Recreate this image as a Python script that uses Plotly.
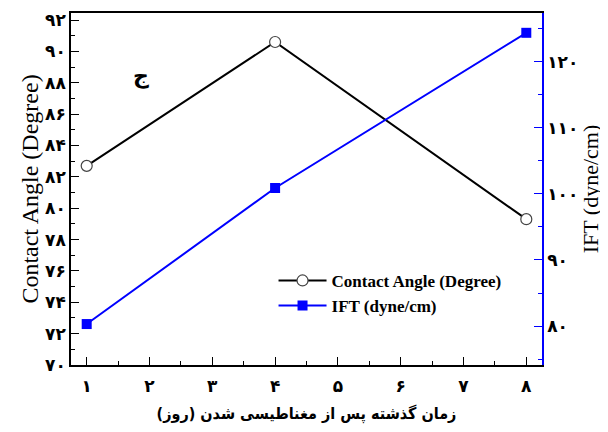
import plotly.graph_objects as go

days = [1, 4, 8]
contact_angle = [82.7, 90.6, 79.3]
ift = [80.3, 100.9, 124.4]

def fa(n):
    return str(n).translate(str.maketrans("0123456789", "۰۱۲۳۴۵۶۷۸۹"))

x_ticks = list(range(1, 9))
y1_ticks = list(range(70, 93, 2))
y2_ticks = list(range(80, 121, 10))

x_title = "زمان گذشته پس از مغناطیسی شدن (روز)"
y1_title = "Contact Angle (Degree)"
y2_title = "IFT (dyne/cm)"

tickfont = dict(family="DejaVu Sans", size=17, color="black", weight="bold")

fig = go.Figure()
fig.add_trace(go.Scatter(
    x=days, y=contact_angle, name="Contact Angle (Degree)", mode="lines+markers",
    line=dict(color="black", width=2),
    marker=dict(symbol="circle", size=11, color="white", line=dict(color="#444", width=1.2)),
    yaxis="y"))
fig.add_trace(go.Scatter(
    x=days, y=ift, name="IFT (dyne/cm)", mode="lines+markers",
    line=dict(color="#0000ff", width=2),
    marker=dict(symbol="square", size=10, color="#0000ff"),
    yaxis="y2"))

fig.update_layout(
    width=600, height=424,
    margin=dict(l=63, r=66, t=5, b=67),
    plot_bgcolor="white", paper_bgcolor="white",
    showlegend=True,
    legend=dict(x=0.43, y=0.29, xanchor="left", yanchor="top",
                bgcolor="rgba(0,0,0,0)", itemwidth=48,
                font=dict(family="Liberation Serif", size=17, color="black", weight="bold"),
                tracegroupgap=0, itemsizing="trace"),
    xaxis=dict(range=[0.75, 8.25], tickvals=x_ticks, ticktext=[fa(v) for v in x_ticks],
               ticks="inside", ticklen=8, tickcolor="black", tickwidth=1,
               showline=True, linecolor="black", linewidth=1.5, mirror=True,
               showgrid=False, zeroline=False, tickfont=tickfont, automargin=False,
               ticklabelstandoff=5,
               minor=dict(ticks="inside", ticklen=4, dtick=0.5, tick0=0.5, tickcolor="black", showgrid=False),
               title=dict(text=x_title, font=dict(family="DejaVu Sans Condensed", size=16, color="black", weight="bold"), standoff=13)),
    yaxis=dict(range=[70, 92.45], tickvals=y1_ticks, ticktext=[fa(v) for v in y1_ticks],
               ticks="inside", ticklen=8, tickcolor="black", tickwidth=1,
               showline=True, linecolor="black", linewidth=1.5,
               showgrid=False, zeroline=False, tickfont=tickfont, automargin=False,
               minor=dict(ticks="inside", ticklen=4, dtick=2, tick0=71, tickcolor="black", showgrid=False),
               title=dict(text=y1_title, font=dict(family="Liberation Serif", size=24, color="black"), standoff=0)),
    yaxis2=dict(range=[74.1, 127.4], overlaying="y", side="right", tickvals=y2_ticks,
                ticktext=[fa(v) for v in y2_ticks],
                ticks="inside", ticklen=8, tickcolor="#0000ff", tickwidth=1,
                showline=True, linecolor="#0000ff", linewidth=1.5,
                showgrid=False, zeroline=False, tickfont=tickfont, automargin=False,
                minor=dict(ticks="inside", ticklen=4, dtick=10, tick0=75, tickcolor="#0000ff", showgrid=False),
                title=dict(text=y2_title, font=dict(family="Liberation Serif", size=22, color="black"), standoff=4)),
    annotations=[dict(text="ج", xref="paper", yref="paper", x=0.127, y=0.863,
                      showarrow=False, font=dict(family="DejaVu Sans", size=22, color="black", weight="bold"))],
)

fig.write_html("out.html")
